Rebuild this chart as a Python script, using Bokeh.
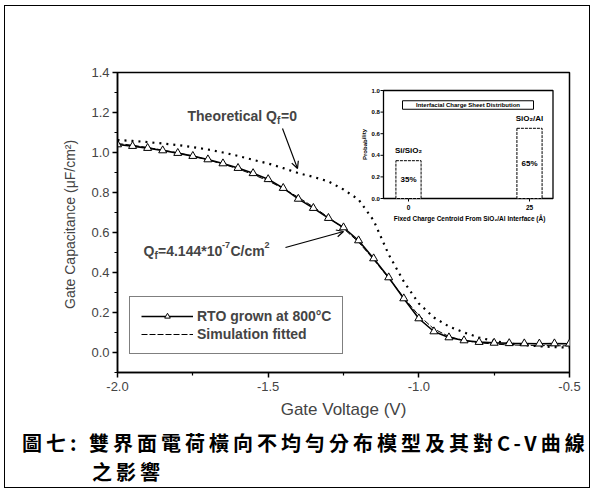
from bokeh.plotting import figure
from bokeh.models import (Range1d, FixedTicker, PrintfTickFormatter, Legend, LegendItem,
                          Arrow, OpenHead, Label, Div, Column, Row, Spacer)
from bokeh.embed import file_html
from bokeh.resources import INLINE
from bokeh.core.properties import value

# ---------------- data ----------------
gate_voltage = [-2.00, -1.95, -1.90, -1.85, -1.80, -1.75, -1.70, -1.65, -1.60, -1.55,
                -1.50, -1.45, -1.40, -1.35, -1.30, -1.25, -1.20, -1.15, -1.10, -1.05,
                -1.00, -0.95, -0.90, -0.85, -0.80, -0.75, -0.70, -0.65, -0.60, -0.55, -0.50]
rto_measured = [1.040, 1.032, 1.022, 1.010, 0.997, 0.982, 0.965, 0.945, 0.922, 0.896,
                0.866, 0.822, 0.768, 0.722, 0.672, 0.625, 0.560, 0.470, 0.375, 0.270,
                0.170, 0.105, 0.075, 0.060, 0.052, 0.048, 0.046, 0.045, 0.044, 0.045, 0.044]
simulation_fitted = [1.045, 1.036, 1.025, 1.012, 0.998, 0.982, 0.963, 0.942, 0.918, 0.890,
                     0.858, 0.820, 0.776, 0.728, 0.676, 0.620, 0.552, 0.465, 0.372, 0.275,
                     0.185, 0.118, 0.080, 0.060, 0.049, 0.042, 0.038, 0.036, 0.035, 0.034, 0.033]
theoretical = [1.062, 1.058, 1.052, 1.045, 1.037, 1.027, 1.015, 1.000, 0.983, 0.963,
               0.945, 0.922, 0.897, 0.878, 0.855, 0.815, 0.765, 0.660, 0.490, 0.355,
               0.245, 0.175, 0.130, 0.100, 0.075, 0.057, 0.045, 0.037, 0.031, 0.027, 0.025]

x_ticks = [-2.0, -1.5, -1.0, -0.5]
x_minor_ticks = [-1.75, -1.25, -0.75]
y_ticks = [0.0, 0.2, 0.4, 0.6, 0.8, 1.0, 1.2, 1.4]
y_minor_ticks = [-0.1, 0.1, 0.3, 0.5, 0.7, 0.9, 1.1, 1.3]

inset_positions = [0, 25]
inset_probability = [0.35, 0.65]
inset_percent_labels = ["35%", "65%"]
inset_bar_names = ["Si/SiO₂", "SiO₂/Al"]
inset_y_ticks = [0.0, 0.2, 0.4, 0.6, 0.8, 1.0]
inset_x_ticks = [0, 25]

caption_line1 = "圖七: 雙界面電荷橫向不均勻分布模型及其對C-V曲線"
caption_line2 = "之影響"

# ---------------- layout constants (page pixels) ----------------
FONT = "Liberation Sans"
OX, OY = 5, 6                      # where the figure starts on the page
PW, PH = 584, 422                  # figure size
BOTTOM = 487                       # page y of the bottom border line
FL, FR, FT, FB = 117, 569, 72, 372  # frame edges on the page
IX0, IXS = 408.0, 4.84             # inset: page px of x=0, px per Angstrom
IY0, IYS = 198.0, 108.0            # inset: page px of y=0, px per unit
IN_L, IN_R = (383 - IX0) / IXS, (552.5 - IX0) / IXS

p = figure(width=PW, height=PH, output_backend="svg", toolbar_location=None,
           x_range=Range1d(-2.0, -0.5), y_range=Range1d(-0.1, 1.4),
           min_border_left=FL - OX, min_border_right=PW - (FR - OX),
           min_border_top=FT - OY, min_border_bottom=PH - (FB - OY))
p.extra_x_ranges = {"ix": Range1d(start=(FL - IX0) / IXS, end=(FR - IX0) / IXS)}
p.extra_y_ranges = {"iy": Range1d(start=-(FB - IY0) / IYS, end=(IY0 - FT) / IYS)}
p.xgrid.visible = False
p.ygrid.visible = False
p.outline_line_color = "black"
p.outline_line_width = 1.5
p.background_fill_color = "white"
p.border_fill_color = "white"

for ax in (p.xaxis[0], p.yaxis[0]):
    ax.axis_line_width = 1.5
    ax.major_tick_out = 5
    ax.major_tick_in = 0
    ax.minor_tick_out = 3
    ax.minor_tick_in = 0
    ax.major_tick_line_width = 1.5
    ax.minor_tick_line_width = 1.2
    ax.major_label_text_font = FONT
    ax.major_label_text_font_size = "13px"
    ax.axis_label_text_font = FONT
    ax.axis_label_text_font_style = "normal"
    ax.formatter = PrintfTickFormatter(format="%.1f")

p.xaxis.ticker = FixedTicker(ticks=x_ticks, minor_ticks=x_minor_ticks)
p.yaxis.ticker = FixedTicker(ticks=y_ticks, minor_ticks=y_minor_ticks)
p.xaxis.axis_label = "Gate Voltage (V)"
p.xaxis.axis_label_text_font_size = "17px"
p.xaxis.major_label_standoff = 4
p.xaxis.axis_label_standoff = 6
p.yaxis.axis_label = "Gate Capacitance  (μF/cm²)"
p.yaxis.axis_label_text_font_size = "14px"
p.yaxis.major_label_standoff = 3
p.yaxis.axis_label_standoff = 10

# ---------------- main curves ----------------
th = p.line(gate_voltage, theoretical, line_dash="2 5", line_width=2.2, color="black")
sim = p.line(gate_voltage, simulation_fitted, line_dash="6 2", line_width=1.0, color="black")
meas_line = p.line(gate_voltage, rto_measured, line_width=1.6, color="black")
meas_pts = p.scatter(gate_voltage, rto_measured, marker="triangle", size=8,
                     fill_color="white", line_color="black", line_width=1)

legend = Legend(items=[LegendItem(label="RTO grown at 800°C", renderers=[meas_line, meas_pts]),
                       LegendItem(label="Simulation fitted", renderers=[sim])],
                location=(12, 18), border_line_color="black", border_line_width=1,
                label_text_font=FONT, label_text_font_style="bold", label_text_font_size="14px",
                glyph_width=52, glyph_height=14, label_standoff=4, padding=11, spacing=2,
                margin=0, label_height=16, background_fill_alpha=1)
p.add_layout(legend)


def px_to_v(px):
    return -2.0 + (px - FL) * 1.5 / (FR - FL)


def py_to_c(py):
    return -0.1 + (FB - py) * 1.5 / (FB - FT)


def composite(x, y, pieces):
    for txt, dx, dy, size in pieces:
        p.add_layout(Label(x=x, y=y + dy, x_offset=dx, text=txt, text_font=FONT,
                           text_font_style="bold", text_font_size=size,
                           text_baseline="middle", text_align="left"))


composite(px_to_v(187), py_to_c(115), [("Theoretical Q", 0, 0, "14px"),
                                       ("f", 89.5, -0.025, "10px"),
                                       ("=0", 93.5, 0, "14px")])
composite(px_to_v(143), py_to_c(250), [("Q", 0, 0, "14px"),
                                       ("f", 11, -0.025, "10px"),
                                       ("=4.144*10", 14.5, 0, "14px"),
                                       ("-7", 78.5, 0.03, "9px"),
                                       ("C/cm", 87, 0, "14px"),
                                       ("2", 121, 0.03, "9px")])

p.add_layout(Arrow(end=OpenHead(size=7, line_width=1.2), line_width=1.2,
                   x_start=px_to_v(282), y_start=py_to_c(128),
                   x_end=px_to_v(297), y_end=py_to_c(168)))
p.add_layout(Arrow(end=OpenHead(size=7, line_width=1.2), line_width=1.2,
                   x_start=px_to_v(285), y_start=py_to_c(247),
                   x_end=px_to_v(343), y_end=py_to_c(231)))

# ---------------- inset ----------------
R = dict(x_range_name="ix", y_range_name="iy")
p.quad(left=IN_L, right=IN_R, bottom=0, top=1.0, fill_color="white",
       line_color="black", line_width=1.3, **R)
p.vbar(x=inset_positions, top=inset_probability, bottom=0, width=5.2, fill_color="white",
       line_color="black", line_width=1, line_dash="3 1", **R)
tick_dx = 3 / IXS
tick_dy = 3 / IYS
p.segment(x0=[IN_L] * len(inset_y_ticks), y0=inset_y_ticks,
          x1=[IN_L - tick_dx] * len(inset_y_ticks), y1=inset_y_ticks,
          line_color="black", line_width=1, **R)
p.segment(x0=inset_x_ticks, y0=[0] * len(inset_x_ticks),
          x1=inset_x_ticks, y1=[-tick_dy] * len(inset_x_ticks),
          line_color="black", line_width=1, **R)
p.text(x=[IN_L - 1.2 * tick_dx] * len(inset_y_ticks), y=inset_y_ticks,
       text=["%.1f" % t for t in inset_y_ticks], text_font=value(FONT),
       text_font_style="bold", text_font_size="6px", text_align="right",
       text_baseline="middle", **R)
p.text(x=inset_x_ticks, y=[-2 * tick_dy] * len(inset_x_ticks),
       text=[str(t) for t in inset_x_ticks], text_font=value(FONT),
       text_font_style="bold", text_font_size="6.5px", text_align="center",
       text_baseline="top", **R)
p.text(x=[(364 - IX0) / IXS], y=[0.5], text=["Probability"], angle=1.5708,
       text_font=value(FONT), text_font_style="bold", text_font_size="6px",
       text_align="center", text_baseline="middle", **R)
p.text(x=[(469 - IX0) / IXS], y=[(IY0 - 218) / IYS],
       text=["Fixed Charge Centroid From SiO₂/Al Interface (Å)"], text_font=value(FONT),
       text_font_style="bold", text_font_size="6.5px", text_align="center",
       text_baseline="middle", **R)
p.rect(x=[(467.5 - IX0) / IXS], y=[(IY0 - 104.5) / IYS], width=131 / IXS, height=8.5 / IYS,
       fill_color="white", line_color="black", line_width=1, **R)
p.text(x=[(467.5 - IX0) / IXS], y=[(IY0 - 104.5) / IYS],
       text=["Interfacial Charge Sheet Distribution"], text_font=value(FONT),
       text_font_style="bold", text_font_size="6px", text_align="center",
       text_baseline="middle", **R)
p.text(x=inset_positions, y=[pv + 0.09 for pv in inset_probability], text=inset_bar_names,
       text_font=value(FONT), text_font_style="bold", text_font_size="8px",
       text_align="center", text_baseline="middle", **R)
p.text(x=inset_positions, y=[pv * 0.5 for pv in inset_probability], text=inset_percent_labels,
       text_font=value(FONT), text_font_style="bold", text_font_size="8px",
       text_align="center", text_baseline="middle", **R)

# ---------------- caption ----------------
CAP_H = BOTTOM - (OY + PH)
cap_html = ('<div style="font-family:\'Noto Sans CJK TC\';font-weight:bold;font-size:20px;'
            'letter-spacing:4px;line-height:29px;padding:0 0 0 17px;margin:0;white-space:nowrap;'
            'color:#000">' + caption_line1 + '<br><span style="padding-left:70px">'
            + caption_line2 + '</span></div>')
cap = Div(text=cap_html, width=PW, height=CAP_H, margin=0)

# ---------------- outer frame made of thin black spacers ----------------
BLACK = {"background-color": "black"}
inner_h = PH + CAP_H
middle = Row(children=[Spacer(width=1, height=inner_h, styles=BLACK, margin=0),
                       Column(children=[p, cap], spacing=0, margin=0),
                       Spacer(width=1, height=inner_h, styles=BLACK, margin=0)],
             spacing=0, margin=0)
framed = Column(children=[Spacer(width=PW + 2, height=OY - 1, margin=0),
                          Spacer(width=PW + 2, height=1, styles=BLACK, margin=0),
                          middle,
                          Spacer(width=PW + 2, height=1, styles=BLACK, margin=0)],
                spacing=0, margin=0)
layout = Row(children=[Spacer(width=OX - 1, height=488, margin=0), framed],
             spacing=0, margin=0, styles={"background-color": "white"})

open("out.html", "w").write(file_html(layout, INLINE))
